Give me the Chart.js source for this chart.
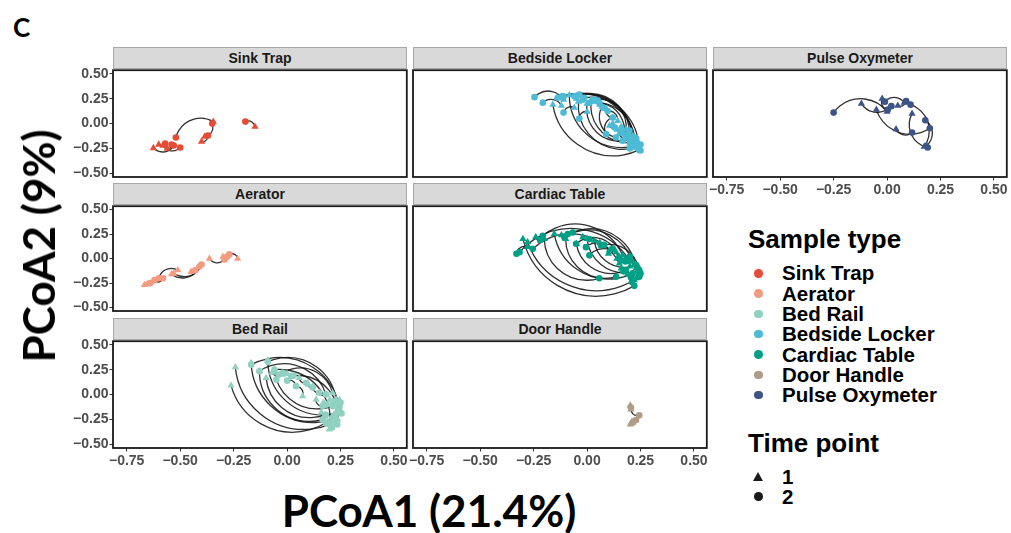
<!DOCTYPE html>
<html><head><meta charset="utf-8">
<script src="https://cdn.jsdelivr.net/npm/chart.js@4.4.1/dist/chart.umd.min.js"></script>
<style>
html,body{margin:0;padding:0;background:#fff;}
#root{position:relative;width:1011px;height:533px;overflow:hidden;font-family:"Liberation Sans",Arial,sans-serif;background:#fff;}
canvas{position:absolute;}
.strip{position:absolute;background:#d9d9d9;border:1px solid #a8a8a8;box-sizing:border-box;text-align:center;font-weight:bold;font-size:14px;color:#1a1a1a;line-height:20px;white-space:nowrap;}
.abs{position:absolute;white-space:nowrap;}
.dot{position:absolute;border-radius:50%;}
.tri{position:absolute;width:0;height:0;}
</style></head><body><div id="root"></div>
<script>
// ---------- categories / ticks ----------
const sampleTypes = ["Sink Trap","Aerator","Bed Rail","Bedside Locker","Cardiac Table","Door Handle","Pulse Oxymeter"];
const sampleColors = ["#E64B35","#F39B7F","#91D1C2","#4DBBD5","#00A087","#B09C85","#3C5488"];
const timePoints = ["1","2"];
const xTicks = [-0.75,-0.5,-0.25,0,0.25,0.5];
const xTickLabels = ["\u22120.75","\u22120.50","\u22120.25","0.00","0.25","0.50"];
const yTicks = [-0.5,-0.25,0,0.25,0.5];
const yTickLabels = ["\u22120.50","\u22120.25","0.00","0.25","0.50"];
const xTitle = "PCoA1 (21.4%)";
const yTitle = "PCoA2 (9%)";

// ---------- series: time point 1 (start) and time point 2 (end), paired by index ----------
const sinkTrapT1 = [[-0.345,0.02],[-0.385,-0.13],[-0.40,-0.18],[-0.15,-0.03],[-0.625,-0.245],[-0.60,-0.21],[-0.56,-0.25],[-0.58,-0.22]];
const sinkTrapT2 = [[-0.52,-0.14],[-0.35,0.00],[-0.37,-0.12],[-0.195,0.02],[-0.53,-0.22],[-0.57,-0.20],[-0.54,-0.21],[-0.50,-0.24]];

const aeratorT1 = [[-0.363,0.0],[-0.231,0.0],[-0.511,-0.118],[-0.54,-0.16],[-0.53,-0.15],[-0.667,-0.268],[-0.62,-0.23],[-0.449,-0.135],[-0.30,0.02],[-0.655,-0.262]];
const aeratorT2 = [[-0.293,-0.01],[-0.27,0.043],[-0.60,-0.20],[-0.41,-0.08],[-0.40,-0.06],[-0.64,-0.25],[-0.58,-0.20],[-0.43,-0.12],[-0.28,0.02],[-0.62,-0.218]];

const bedRailT1 = [[-0.262,0.092],[-0.242,0.275],[-0.168,0.318],[-0.09,0.345],[-0.129,0.235],[-0.059,0.252],[-0.098,0.168],
  [0.244,-0.115],[0.229,-0.048],[0.213,0.018],[0.198,-0.348],[0.237,-0.25],[0.182,0.002],
  [0.057,0.168],[0.12,0.085],[0.136,-0.048],[0.073,-0.015],[0.22,-0.20],[-0.02,0.20],[0.19,-0.30],[0.151,0.018],[0.042,0.085],
  [0.20,-0.05],[0.23,-0.10],[0.25,-0.16],[0.21,-0.22],[0.19,-0.27],[0.17,-0.08],[0.225,-0.28],[0.245,-0.05],[0.0,0.21],[0.10,0.10],[-0.07,0.22],[0.16,-0.18]];
const bedRailT2 = [[0.182,-0.282],[0.198,-0.30],[0.213,-0.248],[0.237,-0.182],[0.166,-0.25],[0.213,-0.115],[0.18,-0.20],
  [-0.168,0.30],[-0.09,0.33],[-0.02,0.218],[-0.059,0.25],[0.019,0.185],[-0.129,0.235],
  [0.089,0.118],[0.151,0.018],[0.166,-0.115],[0.042,0.085],[0.237,-0.15],[-0.05,0.15],[0.21,-0.33],[0.182,0.002],[0.0,0.14],
  [0.215,-0.07],[0.245,-0.12],[0.255,-0.19],[0.225,-0.24],[0.205,-0.29],[0.185,-0.10],[0.235,-0.30],[0.25,-0.08],[0.03,0.19],[0.12,0.07],[-0.04,0.20],[0.18,-0.21]];

const bedsideLockerT1 = [[0.229,-0.205],[0.244,-0.25],[0.213,-0.155],[0.198,-0.105],[0.22,-0.22],[0.182,-0.056],[0.166,-0.172],[0.21,-0.18],
  [-0.16,0.19],[-0.083,0.285],[-0.04,0.22],[0.0,0.20],[0.02,0.24],[0.07,0.17],
  [-0.11,0.24],[-0.12,0.18],[-0.06,0.16],[0.0,0.12],[0.12,0.06],[0.143,0.027],[0.12,0.0],[0.15,-0.10],[0.09,0.15],[0.16,-0.03],
  [0.20,-0.20],[0.23,-0.24],[0.17,-0.09],[0.14,-0.06],[0.19,-0.15],[0.215,-0.12],[-0.05,0.25],[0.03,0.22],[-0.14,0.26],[0.06,0.19],[0.105,-0.02],[0.24,-0.19]];
const bedsideLockerT2 = [[-0.137,0.258],[-0.114,0.275],[-0.059,0.275],[-0.036,0.29],[0.011,0.208],[0.034,0.241],[0.057,0.208],[-0.013,0.258],
  [0.244,-0.264],[0.229,-0.22],[0.20,-0.25],[0.166,-0.172],[0.213,-0.19],[0.135,-0.139],
  [-0.246,0.265],[-0.207,0.21],[-0.11,0.11],[-0.036,0.05],[0.089,-0.105],[0.096,0.126],[0.198,-0.07],[0.23,-0.15],[0.12,0.06],[0.19,-0.12],
  [0.215,-0.23],[0.25,-0.27],[0.18,-0.12],[0.16,-0.08],[0.20,-0.17],[0.225,-0.14],[-0.02,0.24],[0.05,0.23],[-0.11,0.27],[0.075,0.16],[0.13,-0.04],[0.25,-0.21]];

const cardiacTableT1 = [[-0.30,0.201],[-0.278,0.167],[-0.153,0.251],[-0.20,0.20],[-0.10,0.20],[0.0,0.20],[-0.05,0.15],[0.034,0.184],
  [0.198,-0.017],[0.166,0.033],[0.229,-0.10],[0.151,-0.05],[0.21,-0.03],[0.136,0.066],[0.244,-0.16],
  [0.104,0.083],[0.15,0.02],[0.20,-0.08],[0.22,-0.22],[0.10,0.05],[-0.28,0.12],
  [0.18,0.0],[0.22,-0.06],[0.24,-0.13],[0.19,-0.16],[0.16,-0.10],[0.23,-0.20],[-0.12,0.24],[-0.02,0.22],[0.06,0.16],[-0.24,0.22],[0.14,0.0]];
const cardiacTableT2 = [[0.221,-0.278],[0.244,-0.185],[0.213,-0.151],[0.057,-0.201],[0.136,-0.185],[0.244,-0.118],[0.182,-0.118],[0.229,-0.067],
  [-0.316,0.066],[-0.207,0.234],[-0.067,0.267],[-0.254,0.10],[-0.106,0.217],[-0.051,0.151],[0.065,0.134],
  [-0.005,0.117],[0.011,0.033],[0.18,-0.03],[0.244,-0.17],[0.12,0.10],[-0.33,0.05],
  [0.20,0.02],[0.235,-0.09],[0.25,-0.15],[0.205,-0.19],[0.17,-0.13],[0.21,-0.24],[-0.09,0.25],[0.01,0.20],[0.08,0.14],[-0.22,0.19],[0.16,-0.02]];

const doorHandleT1 = [[0.202,-0.108],[0.205,-0.148],[0.202,-0.298],[0.21,-0.27]];
const doorHandleT2 = [[0.205,-0.13],[0.244,-0.208],[0.229,-0.255],[0.215,-0.28]];

const pulseOxymeterT1 = [[0.0,0.12],[-0.05,0.14],[0.174,-0.23],[0.185,-0.22],[0.08,0.21],[-0.023,0.25],[-0.12,0.20],[0.042,-0.055],[0.117,0.10],[0.05,0.18]];
const pulseOxymeterT2 = [[-0.25,0.11],[0.20,-0.046],[0.11,0.19],[0.179,0.034],[-0.01,0.22],[0.003,0.14],[0.02,0.175],[0.117,-0.09],[0.19,-0.24],[0.089,0.225]];

// ---------- layout ----------
const colLeft = [113, 413, 713];
const rowTop = [69, 205, 340];
const rowH = [108, 106, 108];
const plotW = 294;
const xMin = -0.814, xMax = 0.56, yMin = -0.535, yMax = 0.535;

const panels = [
  {name:"Sink Trap", t1:sinkTrapT1, t2:sinkTrapT2, c:0, r:0, showX:false, showY:true},
  {name:"Bedside Locker", t1:bedsideLockerT1, t2:bedsideLockerT2, c:1, r:0, showX:false, showY:false},
  {name:"Pulse Oxymeter", t1:pulseOxymeterT1, t2:pulseOxymeterT2, c:2, r:0, showX:true, showY:false},
  {name:"Aerator", t1:aeratorT1, t2:aeratorT2, c:0, r:1, showX:false, showY:true},
  {name:"Cardiac Table", t1:cardiacTableT1, t2:cardiacTableT2, c:1, r:1, showX:false, showY:false},
  {name:"Bed Rail", t1:bedRailT1, t2:bedRailT2, c:0, r:2, showX:true, showY:true},
  {name:"Door Handle", t1:doorHandleT1, t2:doorHandleT2, c:1, r:2, showX:true, showY:false}
];

const root = document.getElementById('root');
const LM = 50, TM = 3, RM = 4, BM = 26;

function makeCurves(from, to, curvature){
  return {
    id:'curves',
    beforeDatasetsDraw(chart){
      const ctx = chart.ctx, a = chart.chartArea, xs = chart.scales.x, ys = chart.scales.y;
      ctx.save();
      ctx.beginPath(); ctx.rect(a.left, a.top, a.right-a.left, a.bottom-a.top); ctx.clip();
      ctx.strokeStyle = 'rgba(20,20,20,0.88)'; ctx.lineWidth = 1.3;
      from.forEach((s, i) => {
        const e = to[i];
        const x1 = xs.getPixelForValue(s[0]), y1 = ys.getPixelForValue(s[1]);
        const x2 = xs.getPixelForValue(e[0]), y2 = ys.getPixelForValue(e[1]);
        const dx = x2-x1, dy = y2-y1, L = Math.hypot(dx, dy);
        if (L < 0.5) return;
        const ux = dx/L, uy = dy/L, nx = -uy, ny = ux;
        const h = L/2, sag = curvature*h;
        const R = (h*h + sag*sag)/(2*sag);
        const mx = (x1+x2)/2, my = (y1+y2)/2;
        const cx = mx - (R-sag)*nx, cy = my - (R-sag)*ny;
        const a1 = Math.atan2(y1-cy, x1-cx), a2 = Math.atan2(y2-cy, x2-cx);
        let d = a2 - a1;
        while (d > Math.PI) d -= 2*Math.PI;
        while (d <= -Math.PI) d += 2*Math.PI;
        ctx.beginPath(); ctx.arc(cx, cy, R, a1, a2, d < 0); ctx.stroke();
      });
      ctx.restore();
    }
  };
}
const borderPlugin = {
  id:'panelBorder',
  afterDraw(chart){
    const ctx = chart.ctx, a = chart.chartArea;
    ctx.save(); ctx.strokeStyle = '#1a1a1a'; ctx.lineWidth = 1.8;
    ctx.strokeRect(a.left, a.top, a.right-a.left, a.bottom-a.top);
    ctx.restore();
  }
};

panels.forEach(p => {
  const color = sampleColors[sampleTypes.indexOf(p.name)];
  const left = colLeft[p.c], top = rowTop[p.r], h = rowH[p.r];
  const st = document.createElement('div');
  st.className = 'strip';
  st.style.left = left + 'px'; st.style.top = (top - 22) + 'px';
  st.style.width = plotW + 'px'; st.style.height = '22px';
  st.textContent = p.name;
  root.appendChild(st);
  const cv = document.createElement('canvas');
  const W = plotW + LM + RM, H = h + TM + BM;
  cv.width = W; cv.height = H;
  cv.style.left = (left - LM) + 'px'; cv.style.top = (top - TM) + 'px';
  cv.style.width = W + 'px'; cv.style.height = H + 'px';
  root.appendChild(cv);
  const tickFont = {family:'"Liberation Sans", Arial, sans-serif', size:14, weight:'bold'};
  new Chart(cv.getContext('2d'), {
    type:'scatter',
    data:{datasets:[
      {label:timePoints[1], data:p.t2.map(q => ({x:q[0], y:q[1]})), pointStyle:'circle', pointRadius:3.3,
       backgroundColor:color, borderColor:color, borderWidth:0},
      {label:timePoints[0], data:p.t1.map(q => ({x:q[0], y:q[1]})), pointStyle:'triangle', pointRadius:4.2,
       backgroundColor:color, borderColor:color, borderWidth:0}
    ]},
    options:{
      responsive:false, animation:false, devicePixelRatio:1,
      layout:{padding:{left:0, right:RM, top:TM, bottom:0}},
      plugins:{legend:{display:false}, tooltip:{enabled:false}},
      elements:{point:{hoverRadius:0}},
      scales:{
        x:{type:'linear', min:xMin, max:xMax,
          afterBuildTicks:s => { s.ticks = xTicks.map(v => ({value:v})); },
          afterFit:s => { s.height = BM; s.paddingLeft = 0; s.paddingRight = 0; },
          ticks:{display:p.showX, font:tickFont, color:'#4d4d4d', padding:1, maxRotation:0, autoSkip:false,
            callback:(v, i) => xTickLabels[i]},
          grid:{display:true, drawOnChartArea:false, drawTicks:p.showX, tickLength:3.5, color:'#333333', lineWidth:1},
          border:{display:false}},
        y:{type:'linear', min:yMin, max:yMax,
          afterBuildTicks:s => { s.ticks = yTicks.map(v => ({value:v})); },
          afterFit:s => { s.width = LM; s.paddingTop = 0; s.paddingBottom = 0; },
          ticks:{display:p.showY, font:tickFont, color:'#4d4d4d', padding:1, autoSkip:false,
            callback:(v, i) => yTickLabels[i]},
          grid:{display:true, drawOnChartArea:false, drawTicks:p.showY, tickLength:3.5, color:'#333333', lineWidth:1},
          border:{display:false}}
      }
    },
    plugins:[makeCurves(p.t1, p.t2, 0.5), borderPlugin]
  });
});

// ---------- titles ----------
function addText(txt, css){
  const d = document.createElement('div'); d.className = 'abs'; d.textContent = txt;
  Object.assign(d.style, css); root.appendChild(d); return d;
}
addText("C", {left:'13px', top:'14px', fontFamily:'Lato, sans-serif', fontWeight:'bold', fontSize:'26px', lineHeight:'26px', color:'#000'});
addText(xTitle, {left:'429px', top:'488px', transform:'translateX(-50%)', fontFamily:'Lato, sans-serif', fontWeight:'bold', fontSize:'44px', lineHeight:'44px', color:'#000'});
addText(yTitle, {left:'38px', top:'246px', transform:'translate(-50%,-50%) rotate(-90deg)', fontFamily:'Lato, sans-serif', fontWeight:'bold', fontSize:'44px', lineHeight:'44px', color:'#000'});

// ---------- legend ----------
addText("Sample type", {left:'748px', top:'226px', fontSize:'26px', lineHeight:'26px', fontWeight:'bold', color:'#000'});
sampleTypes.forEach((s, i) => {
  const cy = 273.3 + i*20.3;
  const dot = document.createElement('div'); dot.className = 'dot';
  Object.assign(dot.style, {left:(758.3-4.3)+'px', top:(cy-4.3)+'px', width:'8.6px', height:'8.6px', background:sampleColors[i]});
  root.appendChild(dot);
  addText(s, {left:'782px', top:(cy + 7.4 - 17.4)+'px', fontSize:'20.5px', lineHeight:'20.5px', fontWeight:'bold', color:'#000'});
});
addText("Time point", {left:'748px', top:'429.7px', fontSize:'26px', lineHeight:'26px', fontWeight:'bold', color:'#000'});
timePoints.forEach((t, i) => {
  const cy = 476.7 + i*20;
  if (i === 0) {
    const tr = document.createElement('div'); tr.className = 'tri';
    Object.assign(tr.style, {left:(758.3-5)+'px', top:(cy-4.5)+'px', borderLeft:'5px solid transparent', borderRight:'5px solid transparent', borderBottom:'9px solid #1a1a1a'});
    root.appendChild(tr);
  } else {
    const dot = document.createElement('div'); dot.className = 'dot';
    Object.assign(dot.style, {left:(758.3-4.3)+'px', top:(cy-4.3)+'px', width:'8.6px', height:'8.6px', background:'#1a1a1a'});
    root.appendChild(dot);
  }
  addText(t, {left:'782px', top:(cy + 7.4 - 17.4)+'px', fontSize:'20.5px', lineHeight:'20.5px', fontWeight:'bold', color:'#000'});
});
</script></body></html>
